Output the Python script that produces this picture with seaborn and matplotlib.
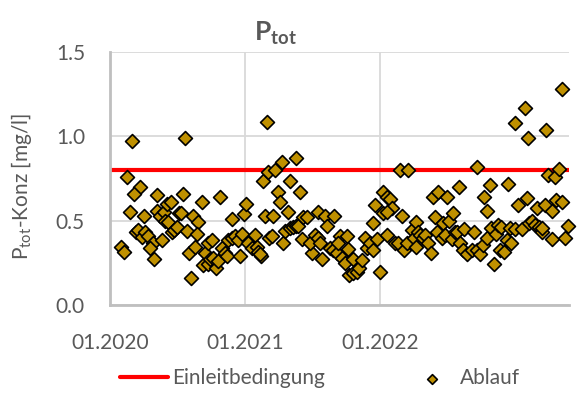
import matplotlib
matplotlib.use("Agg")
import matplotlib.pyplot as plt
import matplotlib.dates as mdates
import seaborn as sns
import pandas as pd

# --- data -------------------------------------------------------------
start_datum = "2020-01-01"
tage_seit_start = [
    29, 38, 59, 46, 81, 65, 54, 92, 70, 76, 87, 95, 103, 116, 108, 119, 127, 128, 135, 146,
    154, 165, 149, 156, 141, 168, 173, 181, 187, 192, 197, 203, 208, 214, 230, 219, 225, 238, 235, 249,
    257, 265, 276, 252, 266, 271, 279, 287, 292, 298, 303, 311, 316, 319, 330, 338, 346, 357, 331, 362,
    368, 352, 373, 384, 392, 398, 400, 408, 414, 425, 427, 419, 430, 406, 446, 465, 503, 441, 438, 454,
    460, 487, 514, 481, 468, 473, 487, 495, 503, 509, 522, 533, 519, 546, 541, 555, 563, 568, 573, 563,
    582, 587, 606, 595, 603, 614, 622, 617, 628, 636, 641, 644, 646, 657, 668, 674, 657, 682, 690, 695,
    703, 711, 722, 711, 717, 730, 738, 749, 757, 763, 738, 749, 749, 771, 779, 790, 795, 784, 806, 803,
    817, 822, 828, 830, 833, 839, 847, 852, 860, 868, 874, 887, 912, 879, 901, 917, 928, 885, 898, 906,
    925, 933, 941, 947, 955, 944, 960, 968, 979, 987, 993, 1001, 1009, 995, 1012, 1020, 1028, 1021, 1033, 1044,
    1050, 1060, 1039, 1055, 1068, 1074, 1087, 1077, 1082, 1096, 1117, 1098, 1123, 1131, 1182, 1223, 1104, 1128, 1136, 1144,
    1155, 1152, 1163, 1169, 1171, 1177, 1198, 1209, 1225, 1185, 1204, 1215, 1196, 1231, 1239,
]
ablauf = [
    0.345, 0.316, 0.97, 0.76, 0.70, 0.66, 0.55, 0.53, 0.435, 0.445, 0.405, 0.43, 0.41, 0.37, 0.34, 0.27, 0.65, 0.56, 0.53, 0.55,
    0.60, 0.61, 0.50, 0.49, 0.385, 0.43, 0.445, 0.46, 0.545, 0.545, 0.66, 0.99, 0.44, 0.31, 0.345, 0.16, 0.53, 0.49, 0.42, 0.61,
    0.31, 0.37, 0.385, 0.24, 0.245, 0.27, 0.28, 0.22, 0.26, 0.64, 0.34, 0.31, 0.29, 0.385, 0.40, 0.41, 0.385, 0.42, 0.51, 0.54,
    0.60, 0.29, 0.37, 0.34, 0.415, 0.345, 0.315, 0.29, 0.735, 1.085, 0.79, 0.53, 0.40, 0.30, 0.80, 0.85, 0.87, 0.53, 0.41, 0.67,
    0.61, 0.735, 0.67, 0.55, 0.37, 0.44, 0.455, 0.46, 0.47, 0.47, 0.52, 0.52, 0.39, 0.31, 0.37, 0.415, 0.40, 0.37, 0.27, 0.55,
    0.53, 0.47, 0.53, 0.34, 0.325, 0.31, 0.41, 0.37, 0.28, 0.25, 0.41, 0.33, 0.18, 0.19, 0.195, 0.22, 0.27, 0.265, 0.40, 0.34,
    0.37, 0.325, 0.39, 0.485, 0.59, 0.195, 0.67, 0.64, 0.63, 0.575, 0.545, 0.55, 0.415, 0.37, 0.37, 0.53, 0.325, 0.80, 0.80, 0.37,
    0.445, 0.40, 0.49, 0.345, 0.43, 0.415, 0.40, 0.415, 0.37, 0.31, 0.64, 0.67, 0.64, 0.52, 0.485, 0.50, 0.545, 0.43, 0.40, 0.415,
    0.39, 0.43, 0.43, 0.37, 0.325, 0.70, 0.45, 0.30, 0.325, 0.43, 0.325, 0.30, 0.355, 0.82, 0.64, 0.56, 0.71, 0.40, 0.455, 0.42,
    0.475, 0.46, 0.245, 0.325, 0.315, 0.385, 0.37, 0.72, 0.455, 0.45, 0.45, 1.08, 1.17, 0.99, 1.04, 1.28, 0.59, 0.635, 0.485, 0.50,
    0.575, 0.475, 0.46, 0.43, 0.455, 0.59, 0.555, 0.62, 0.61, 0.77, 0.76, 0.805, 0.39, 0.40, 0.47,
]
grenz_datum = ["2020-01-01", "2023-05-28"]
grenzwert = [0.8, 0.8]
x_ticks = ["2020-01-01", "2021-01-01", "2022-01-01"]
y_ticks = [0.0, 0.5, 1.0, 1.5]

df = pd.DataFrame({
    "Datum": pd.Timestamp(start_datum) + pd.to_timedelta(tage_seit_start, unit="D"),
    "Ablauf": ablauf,
})
df_grenz = pd.DataFrame({"Datum": pd.to_datetime(grenz_datum), "Wert": grenzwert})

# --- style ------------------------------------------------------------
sns.set_theme(style="white")
plt.rcParams["font.family"] = ["Lato", "DejaVu Sans"]
plt.rcParams["mathtext.fontset"] = "custom"
plt.rcParams["mathtext.rm"] = "Lato"
plt.rcParams["mathtext.it"] = "Lato"
plt.rcParams["mathtext.bf"] = "Lato:bold"
txt = "#595959"

fig = plt.figure(figsize=(5.79, 3.94), dpi=100)
ax = fig.add_axes([110 / 579, 1 - 305 / 394, (569 - 110) / 579, (305 - 52) / 394])

sns.lineplot(data=df_grenz, x="Datum", y="Wert", color="#FF0000", linewidth=3,
             label="Einleitbedingung", ax=ax, zorder=2)
sns.scatterplot(data=df, x="Datum", y="Ablauf", marker="D", s=50, color="#BF9000",
                edgecolor="black", linewidth=1.2, label="Ablauf", ax=ax, zorder=3,
                clip_on=False)

ax.set_xlim(pd.Timestamp(grenz_datum[0]), pd.Timestamp(grenz_datum[1]))
ax.set_ylim(0, 1.5)
ax.set_xticks(pd.to_datetime(x_ticks))
ax.xaxis.set_major_formatter(mdates.DateFormatter("%m.%Y"))
ax.set_yticks(y_ticks)
ax.set_yticklabels([f"{v:.1f}" for v in y_ticks])
ax.tick_params(axis="both", length=0, labelsize=15, labelcolor=txt)
ax.tick_params(axis="y", pad=18)
ax.tick_params(axis="x", pad=20)

ax.grid(True, color="#D9D9D9", linewidth=1.3)
ax.set_axisbelow(True)
for side in ["top", "right"]:
    ax.spines[side].set_visible(False)
for side in ["left", "bottom"]:
    ax.spines[side].set_color("#BFBFBF")
    ax.spines[side].set_linewidth(2)

ax.set_xlabel("")
ax.set_ylabel(r"P$_{\mathrm{tot}}$-Konz [mg/l]", fontsize=15, color=txt)
ax.yaxis.set_label_coords(-76 / 459, 0.47)

fig.text(0.475, 0.915, r"$\mathbf{P}_{\mathbf{tot}}$", fontsize=19, color=txt,
         ha="center", va="center")

ax.get_legend().remove()
h, l = ax.get_legend_handles_labels()
fig.legend(h, l, loc="center", bbox_to_anchor=(0.553, 0.04), ncol=2, frameon=False,
           fontsize=15, labelcolor=txt, handlelength=2.3, handletextpad=0.2,
           columnspacing=4.0, markerscale=0.7)

fig.savefig("out.png", dpi=100)
